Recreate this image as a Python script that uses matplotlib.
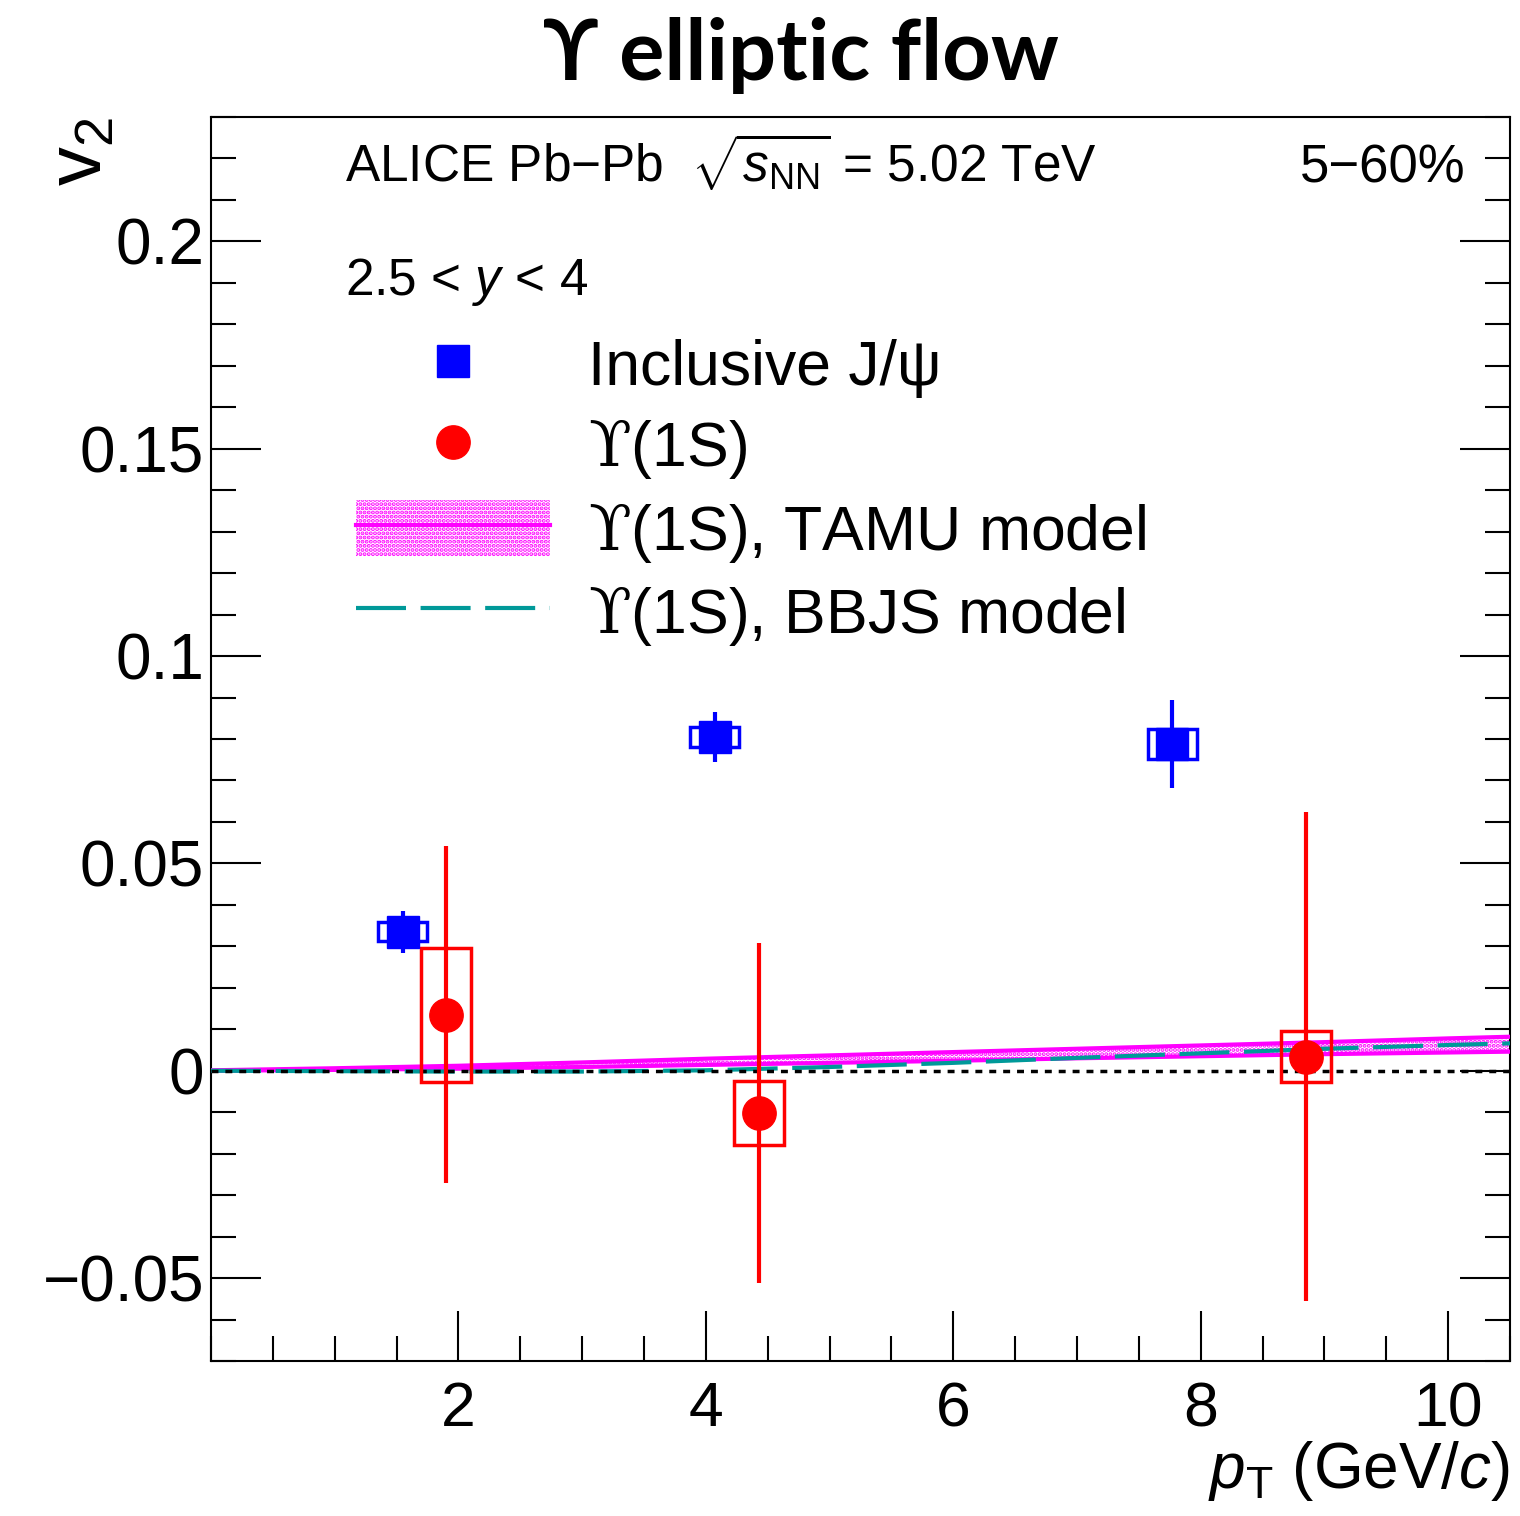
import matplotlib
matplotlib.use('Agg')
import matplotlib.pyplot as plt
from matplotlib.lines import Line2D
from matplotlib.patches import Patch, Rectangle
from matplotlib.ticker import MultipleLocator, FixedLocator, FixedFormatter

plt.rcParams['font.family'] = ['Liberation Sans', 'DejaVu Serif']
plt.rcParams['mathtext.fontset'] = 'custom'
plt.rcParams['mathtext.rm'] = 'Liberation Sans'
plt.rcParams['mathtext.it'] = 'Liberation Sans:italic'
plt.rcParams['mathtext.sf'] = 'DejaVu Serif'   # serif upsilon in the legend
plt.rcParams['hatch.linewidth'] = 2.0

# inclusive J/psi
jpsi_pt = [1.55, 4.07, 7.77]
jpsi_v2 = [0.0335, 0.0805, 0.0788]
jpsi_stat = [0.0050, 0.0060, 0.0106]
jpsi_sys = [0.0023, 0.0024, 0.0036]

# Upsilon(1S)
ups_pt = [1.90, 4.43, 8.85]
ups_v2 = [0.0135, -0.0101, 0.0034]
ups_stat = [0.0406, 0.0410, 0.0590]
ups_sys = [0.0162, 0.0077, 0.0062]

# TAMU model band
tamu_pt = [0.0, 1.0, 2.0, 3.0, 4.0, 5.0, 6.0, 7.0, 8.0, 9.0, 10.0, 10.5]
tamu_hi = [0.0001, 0.0006, 0.0012, 0.0020, 0.0029, 0.0037, 0.0045, 0.0053, 0.0061, 0.0069, 0.0078, 0.0082]
tamu_lo = [0.0000, 0.0002, 0.0005, 0.0009, 0.0014, 0.0019, 0.0024, 0.0030, 0.0035, 0.0040, 0.0044, 0.0046]

# BBJS model
bbjs_pt = [0.0, 1.0, 2.0, 3.0, 4.0, 5.0, 6.0, 7.0, 8.0, 9.0, 10.0, 10.5]
bbjs_v2 = [0.0, -0.0001, -0.0002, -0.0002, 0.0001, 0.0009, 0.0019, 0.0031, 0.0042, 0.0053, 0.0062, 0.0066]

yticks = [-0.05, 0.0, 0.05, 0.1, 0.15, 0.2]
ylabels = ['\u22120.05', '0', '0.05', '0.1', '0.15', '0.2']
xticks = [2, 4, 6, 8, 10]

BOXW = 0.2
BLUE = '#0000ff'
RED = '#ff0000'
MAG = '#ff00ff'
TEAL = '#009999'

fig = plt.figure(figsize=(15.2, 15.16), dpi=100)
ax = fig.add_axes([211/1520, 1-1361/1516, 1299/1520, 1244/1516])
ax.set_xlim(0, 10.5)
ax.set_ylim(-0.07, 0.23)

# models
ax.fill_between(tamu_pt, tamu_lo, tamu_hi, facecolor='white', edgecolor=MAG, hatch='....', lw=0, zorder=2)
ax.plot(tamu_pt, tamu_hi, color=MAG, lw=3, zorder=3)
ax.plot(tamu_pt, tamu_lo, color=MAG, lw=3, zorder=3)
ax.plot(bbjs_pt, bbjs_v2, color=TEAL, lw=3, dashes=(12, 3.5), zorder=4)
ax.axhline(0, color='black', lw=2.5, dashes=(2, 2), zorder=4)

# systematic boxes
for x, y, s in zip(jpsi_pt, jpsi_v2, jpsi_sys):
    ax.add_patch(Rectangle((x - BOXW, y - s), 2*BOXW, 2*s, fill=False, edgecolor=BLUE, lw=2.5, zorder=5))
for x, y, s in zip(ups_pt, ups_v2, ups_sys):
    ax.add_patch(Rectangle((x - BOXW, y - s), 2*BOXW, 2*s, fill=False, edgecolor=RED, lw=2.5, zorder=5))

ax.errorbar(jpsi_pt, jpsi_v2, yerr=jpsi_stat, fmt='s', color=BLUE, ms=23, elinewidth=3, capsize=0, zorder=6)
ax.errorbar(ups_pt, ups_v2, yerr=ups_stat, fmt='o', color=RED, ms=24, elinewidth=3, capsize=0, zorder=6)

# axes style
ax.xaxis.set_major_locator(FixedLocator(xticks))
ax.xaxis.set_minor_locator(MultipleLocator(0.5))
ax.yaxis.set_major_locator(FixedLocator(yticks))
ax.yaxis.set_major_formatter(FixedFormatter(ylabels))
ax.yaxis.set_minor_locator(MultipleLocator(0.01))
ax.tick_params(which='both', direction='in', width=1.5)
ax.tick_params(axis='y', which='both', left=True, right=True, labelsize=46, pad=5)
ax.tick_params(axis='x', which='both', top=False, labelsize=45, pad=14)
ax.tick_params(which='major', length=36)
ax.tick_params(which='minor', length=18)
for sp in ax.spines.values():
    sp.set_linewidth(1.5)

ax.set_xlabel(r'$p_{\mathrm{T}}$ (GeV/$c$)', fontsize=46, loc='right', labelpad=0)
ax.set_ylabel(r'$\mathrm{v}_{2}$', fontsize=56, loc='top')
ax.yaxis.set_label_coords(-0.0716, 1.0)

fig.text(801/1520, 1-55/1516, '\u03d2 elliptic flow', ha='center', va='center',
         fontsize=61, fontweight='bold', family=['Lato', 'DejaVu Sans'])

ax.text(0.103, 0.947, r'ALICE Pb$-$Pb  $\sqrt{s_{\mathrm{NN}}}$ = 5.02 TeV', transform=ax.transAxes,
        fontsize=37, va='baseline', ha='left')
ax.text(0.966, 0.947, '5\u221260%', transform=ax.transAxes, fontsize=38, va='baseline', ha='right')
ax.text(0.103, 0.857, r'2.5 < $y$ < 4', transform=ax.transAxes, fontsize=37, va='baseline', ha='left')

UPS = '$\\mathsf{\u03d2}$'
h_jpsi = Line2D([], [], marker='s', color=BLUE, ls='none', ms=23)
h_ups = Line2D([], [], marker='o', color=RED, ls='none', ms=24)
h_tamu = (Patch(facecolor='white', edgecolor=MAG, hatch='....', lw=0), Line2D([], [], color=MAG, lw=3))
h_bbjs = Line2D([], [], color=TEAL, lw=3, dashes=(12, 3.5))
leg = ax.legend([h_jpsi, h_ups, h_tamu, h_bbjs],
                ['Inclusive J/\u03c8', UPS + '(1S)', UPS + '(1S), TAMU model', UPS + '(1S), BBJS model'],
                loc='upper left', bbox_to_anchor=(0.112, 0.824), frameon=False, fontsize=45,
                handlelength=3.1, handleheight=1.0, handletextpad=0.6, labelspacing=0.3,
                borderpad=0, borderaxespad=0)

fig.savefig('out.png', dpi=100)
